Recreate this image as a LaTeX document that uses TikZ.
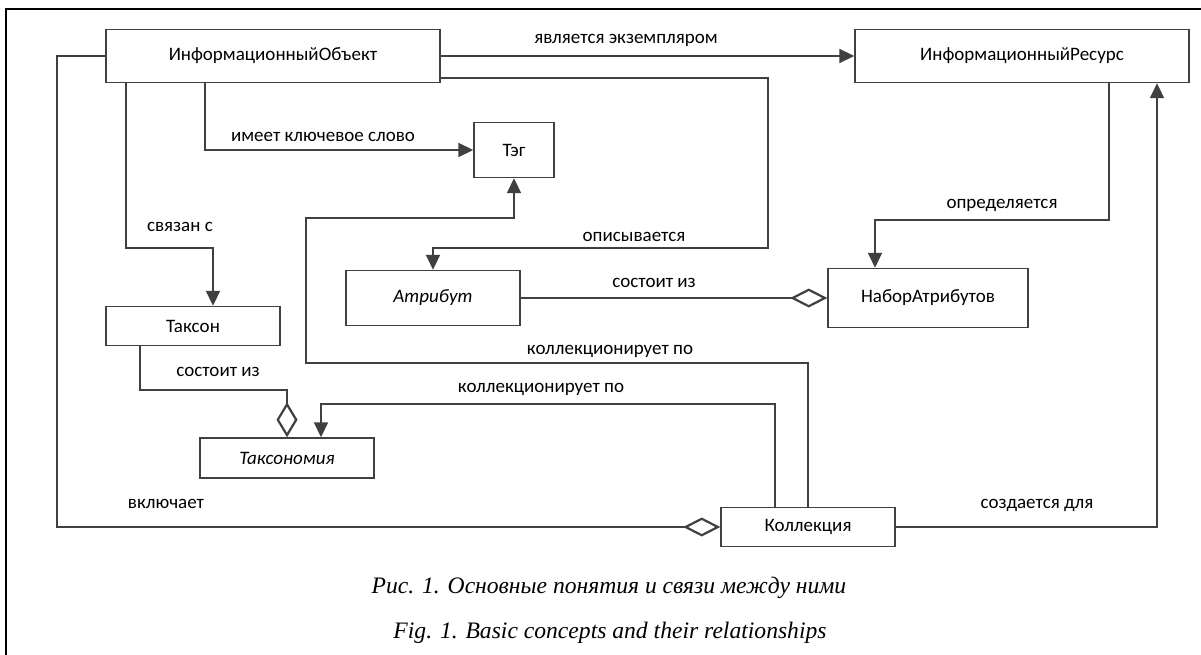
\documentclass[tikz,border=0pt]{standalone}
\usepackage{fontspec}
\setmainfont{Carlito}
\newfontfamily\capfont{Liberation Serif}
\usetikzlibrary{arrows.meta}
\definecolor{linegray}{HTML}{404040}
\begin{document}
\begin{tikzpicture}[x=1pt,y=-1pt,
    box/.style={draw=linegray, line width=1.5pt, fill=white, inner sep=0pt, font=\fontsize{19}{21}\selectfont},
    conn/.style={draw=linegray, line width=2.2pt},
    arr/.style={conn, -{Triangle[length=15pt,width=14pt]}},
    agg/.style={conn, -{Diamond[fill=white,length=37pt,width=19pt]}},
    lbl/.style={font=\fontsize{19}{21}\selectfont, inner sep=0pt},
    captext/.style={font=\capfont\itshape\fontsize{23.6}{25}\selectfont, inner sep=0pt}]
    \useasboundingbox (0,0) rectangle (1201,655);
    % frame
    \draw[line width=1.5pt] (6,655) -- (6,9) -- (1201,9);
    % concepts
    \node[box, minimum width=334pt, minimum height=53pt] (io) at (273,56) {ИнформационныйОбъект};
    \node[box, minimum width=334pt, minimum height=53pt] (ir) at (1022,56) {ИнформационныйРесурс};
    \node[box, minimum width=80pt, minimum height=55pt] (tag) at (514,150) {Тэг};
    \node[box, minimum width=174pt, minimum height=55pt] (attr) at (433,298) {\itshape Атрибут};
    \node[box, minimum width=200pt, minimum height=59pt] (attrset) at (928,298) {НаборАтрибутов};
    \node[box, minimum width=174pt, minimum height=39pt] (taxon) at (193,326) {Таксон};
    \node[box, minimum width=174pt, minimum height=40pt] (taxonomy) at (287,458) {\itshape Таксономия};
    \node[box, minimum width=174pt, minimum height=39pt] (coll) at (808,527) {Коллекция};
    % bends
    \coordinate (b1) at (126,248);
    \coordinate (b2) at (768,248);
    \coordinate (b3) at (900,220);
    \coordinate (b4) at (306,363);
    \coordinate (b5) at (400,218);
    \coordinate (b6) at (321,404);
    \coordinate (b7) at (200,390);
    \coordinate (b8) at (57,527);
    % connectors
    \draw[arr] (io) -- (ir);
    \draw[arr] ([xshift=-68pt]io.south) |- (tag.west);
    \draw[arr] ([xshift=-147pt]io.south) |- (b1) -| ([xshift=20pt]taxon.north);
    \draw[arr] ([yshift=-22pt]io.east) -| (b2) -| (attr.north);
    \draw[agg] (attr.east) -- (attr.east -| attrset.west);
    \draw[arr] ([xshift=87pt]ir.south) |- (b3) -| ([xshift=-53pt]attrset.north);
    \draw[arr] (coll.east) -| ([xshift=135pt]ir.south);
    \draw[arr] (coll.north) |- (b4) |- (b5) -| (tag.south);
    \draw[arr] ([xshift=-33pt]coll.north) |- (b6) -| ([xshift=34pt]taxonomy.north);
    \draw[conn, -{Diamond[fill=white,length=35pt,width=21pt]}] ([xshift=-53pt]taxon.south) |- (b7) -| (taxonomy.north);
    \draw[agg] (io.west) -| (b8) -- (coll.west);
    % labels
    \node[lbl] (l1) at (626,40) {является экземпляром};
    \node[lbl] (l2) at (323,137) {имеет ключевое слово};
    \node[lbl] (l3) at (180,227) {связан с};
    \node[lbl] (l4) at (634,237) {описывается};
    \node[lbl] (l5) at (1002,205) {определяется};
    \node[lbl] (l6) at (654,283) {состоит из};
    \node[lbl] (l7) at (610,351) {коллекционирует по};
    \node[lbl] (l8) at (218,372) {состоит из};
    \node[lbl] (l9) at (541,389) {коллекционирует по};
    \node[lbl] (l10) at (166,504) {включает};
    \node[lbl] (l11) at (1037,505) {создается для};
    % captions
    \node[captext] (cap1) at (609,588) {Рис. 1. Основные понятия и связи между ними};
    \node[captext] (cap2) at (610,633) {Fig. 1. Basic concepts and their relationships};
\end{tikzpicture}
\end{document}
